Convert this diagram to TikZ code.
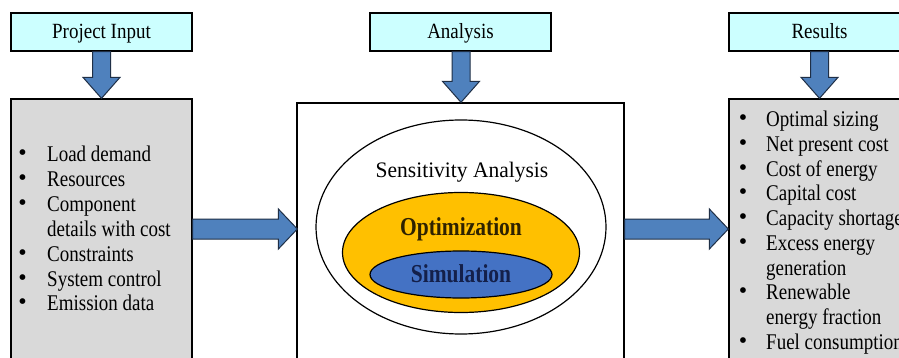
\documentclass[tikz,border=0pt]{standalone}
\usepackage{fontspec}
\usepackage{graphicx}
\setmainfont{Liberation Serif}
\usetikzlibrary{shapes.geometric,calc}

\definecolor{headfill}{HTML}{CCFFFF}
\definecolor{panelgray}{HTML}{D9D9D9}
\definecolor{arrowblue}{HTML}{4F81BD}
\definecolor{arrowedge}{HTML}{1F2F46}
\definecolor{optorange}{HTML}{FFC000}
\definecolor{simblue}{HTML}{4472C4}
\definecolor{simtext}{HTML}{14204A}
\definecolor{opttext}{HTML}{2E2200}

% the lettering is drawn a little taller than it is wide
\newcommand{\vstretch}[2][1.18]{\scalebox{1}[#1]{#2}}

\tikzset{
  header/.style={draw, line width=1.3pt, fill=headfill, minimum width=181pt,
    minimum height=38pt, inner sep=0pt},
  panel/.style={draw, line width=1.3pt, inner sep=0pt},
  blockarrow/.style={fill=arrowblue, draw=arrowedge, line width=1pt, line join=miter},
  ring/.style={ellipse, draw, line width=1.2pt, inner sep=0pt},
  headtext/.style={font=\fontsize{19}{23}\selectfont, inner sep=0pt, anchor=base},
  itemtext/.style={font=\fontsize{19}{23}\selectfont, inner sep=0pt, anchor=base west},
  bullet/.style={font=\fontsize{24}{26}\selectfont, inner sep=0pt, anchor=base},
  bigtext/.style={font=\fontsize{21.5}{25}\selectfont, inner sep=0pt, anchor=base},
}

% block arrow pointing down: shaft starts at #1, tip lands on #2
\newcommand{\downblock}[2]{%
  \path[blockarrow] let \p1=(#1), \p2=(#2) in
    (\x2-9pt,\y1) -- (\x2-9pt,\y2+21pt) -- (\x2-18.5pt,\y2+21pt) -- (\x2,\y2)
    -- (\x2+18.5pt,\y2+21pt) -- (\x2+9pt,\y2+21pt) -- (\x2+9pt,\y1) -- cycle;}

% block arrow pointing right: shaft starts at x of #1, tip lands on #2
\newcommand{\rightblock}[2]{%
  \path[blockarrow] let \p1=(#1), \p2=(#2) in
    (\x1,\y2+10pt) -- (\x2-19pt,\y2+10pt) -- (\x2-19pt,\y2+20pt) -- (\x2,\y2)
    -- (\x2-19pt,\y2-20pt) -- (\x2-19pt,\y2-10pt) -- (\x1,\y2-10pt) -- cycle;}

\begin{document}
\begin{tikzpicture}[x=1pt,y=-1pt]
\useasboundingbox (0,0) rectangle (899,358);
\clip (0,0) rectangle (899,358);
\fill[white] (0,0) rectangle (899,358);

% column headers
\node[header] (h1) at (101.5,32) {};
\node[header] (h2) at (460.5,32) {};
\node[header] (h3) at (819.5,32) {};
\node[headtext] (h1t) at (101.5,39) {\vstretch[1.14]{Project Input}};
\node[headtext] (h2t) at (460.5,39) {\vstretch[1.14]{Analysis}};
\node[headtext] (h3t) at (819.5,39) {\vstretch[1.14]{Results}};

% panels below the headers
\node[panel, fill=panelgray, minimum width=181pt, minimum height=281pt] (b1) at (101.5,239.5) {};
\node[panel, fill=white, minimum width=327pt, minimum height=277pt] (b2) at (460.5,241.5) {};
\node[panel, fill=panelgray, minimum width=181pt, minimum height=281pt] (b3) at (819.5,239.5) {};

% nested analysis ellipses
\node[ring, fill=white, minimum width=290pt, minimum height=214pt] (sens) at (461,227) {};
\node[ring, fill=optorange, minimum width=237pt, minimum height=120pt] (opt) at (461,252.5) {};
\node[ring, fill=simblue, minimum width=182pt, minimum height=47pt] (sim) at (461,274.5) {};
\node[bigtext] (senst) at (462,177.5) {\vstretch[1.03]{Sensitivity Analysis}};
\node[bigtext, text=opttext] (optt) at (461,235) {\vstretch[1.2]{\bfseries Optimization}};
\node[bigtext, text=simtext] (simt) at (461,282) {\vstretch[1.2]{\bfseries Simulation}};

% block arrows
\downblock{h1.south}{b1.north}
\downblock{h2.south}{$(b2.north)+(0.5,0)$}
\downblock{h3.south}{b3.north}
\rightblock{b1.east}{$(b2.west|-sens.center)+(1,2)$}
\rightblock{b2.east}{$(b3.west|-sens.center)+(0,2)$}

% input list
\foreach \txt/\bul [count=\i] in {Load demand/1, Resources/1, Component/1,
    details with cost/0, Constraints/1, System control/1, Emission data/1} {
  \node[itemtext] (in\i) at (47,{162+24.83*(\i-1)}) {\vstretch{\txt}};
  \ifnum\bul=1 \node[bullet] (inb\i) at (22.5,{161+24.83*(\i-1)}) {\textbullet}; \fi
}

% result list
\foreach \txt/\bul [count=\i] in {Optimal sizing/1, Net present cost/1,
    Cost of energy/1, Capital cost/1, Capacity shortage/1, Excess energy/1,
    generation/0, Renewable/1, energy fraction/0, Fuel consumption/1} {
  \node[itemtext] (out\i) at (766,{126.5+24.78*(\i-1)}) {\vstretch{\txt}};
  \ifnum\bul=1 \node[bullet] (outb\i) at (743,{125.5+24.78*(\i-1)}) {\textbullet}; \fi
}
\end{tikzpicture}
\end{document}
